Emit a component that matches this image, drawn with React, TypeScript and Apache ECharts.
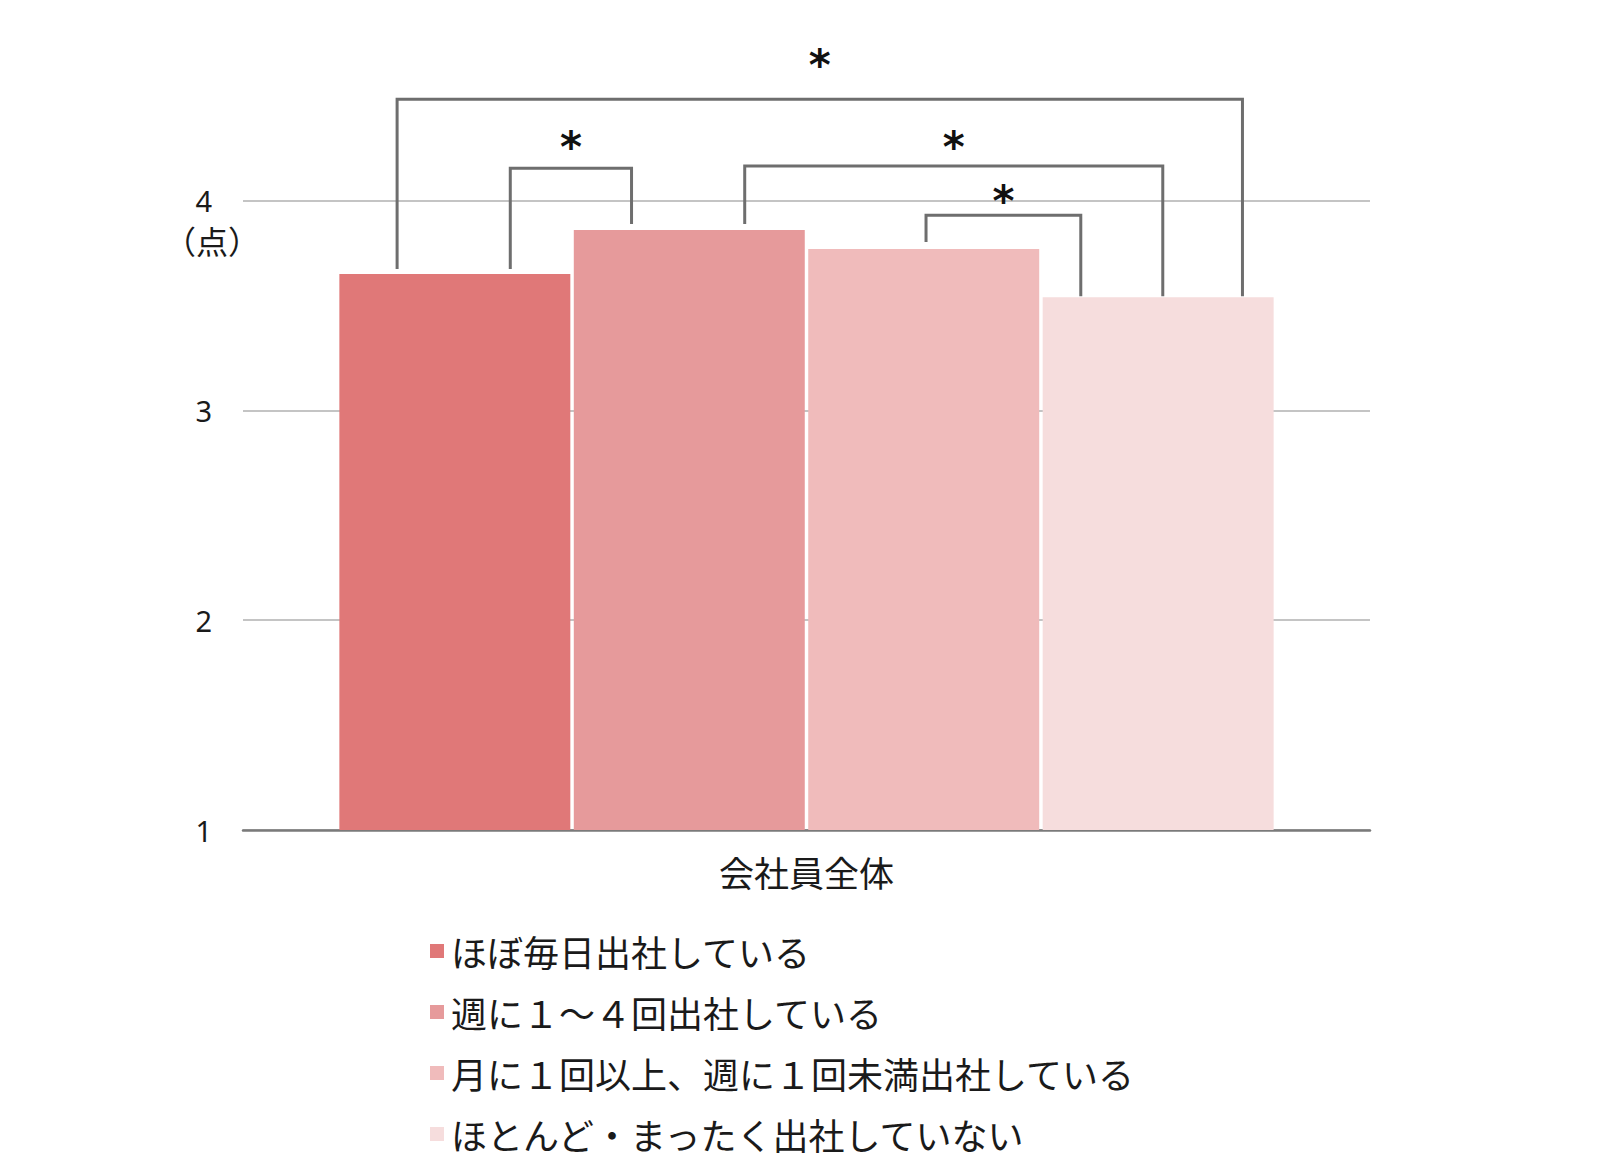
import React, { useEffect, useRef } from 'react';
import * as echarts from 'echarts';

// ---- data ----
const CATEGORIES = ['会社員全体'];
const SERIES_NAMES = [
  'ほぼ毎日出社している',
  '週に１～４回出社している',
  '月に１回以上、週に１回未満出社している',
  'ほとんど・まったく出社していない',
];
const SCORES = [3.65, 3.86, 3.77, 3.54];
const Y_MIN = 1;
const Y_MAX = 4;
const Y_INTERVAL = 1;
const UNIT_LABEL = '（点）';

// significance brackets (series index, relative position along bar, level in score units)
const SIG_FROM = [0, 0, 1, 2];
const SIG_TO = [3, 1, 3, 3];
const SIG_FROM_POS = [0.25, 0.74, 0.74, 0.51];
const SIG_TO_POS = [0.865, 0.25, 0.52, 0.165];
const SIG_LEVEL = [4.484, 4.155, 4.165, 3.931];
const SIG_MARK_LEVEL = [4.675, 4.284, 4.284, 4.027];
const SIG_MARK = ['*', '*', '*', '*'];

// ---- styles ----
const COLORS = ['#E07878', '#E69A9B', '#F0BBBB', '#F6DDDD'];
const FONT_JP = '"Noto Sans CJK JP", "Noto Sans", sans-serif';
const FONT_NUM = '"Noto Sans", "Noto Sans CJK JP", sans-serif';
const TEXT_COLOR = '#1a1a1a';
const GRID_LEFT = 243;
const GRID_RIGHT = 230;
const GRID_TOP = 200.7;
const GRID_BOTTOM = 344;
const LEG_GAP = [5, 6, 7, 1];

export default function App() {
  const ref = useRef<HTMLDivElement>(null);

  useEffect(() => {
    if (!ref.current) return;
    const chart = echarts.init(ref.current, undefined, { renderer: 'svg' });

    const option: any = {
      animation: false,
      backgroundColor: '#ffffff',
      grid: { left: GRID_LEFT, right: GRID_RIGHT, top: GRID_TOP, bottom: GRID_BOTTOM, containLabel: false },
      xAxis: {
        type: 'category',
        data: CATEGORIES,
        axisLine: { show: true, lineStyle: { color: '#7a7a7a', width: 2.5 } },
        axisTick: { show: false },
        axisLabel: { fontSize: 35, lineHeight: 35, margin: 24, color: TEXT_COLOR, fontFamily: FONT_JP },
      },
      yAxis: {
        type: 'value',
        min: Y_MIN,
        max: Y_MAX,
        interval: Y_INTERVAL,
        axisLine: { show: false },
        axisTick: { show: false },
        axisLabel: { fontSize: 29, lineHeight: 29, margin: 31, color: TEXT_COLOR, fontFamily: FONT_NUM },
        splitLine: { show: true, lineStyle: { color: '#c4c4c4', width: 2 } },
      },
      legend: {
        orient: 'vertical',
        left: 425,
        top: 926,
        itemWidth: 14,
        itemHeight: 14,
        itemGap: 21,
        icon: 'rect',
        data: SERIES_NAMES,
        textStyle: { fontSize: 36, lineHeight: 40, color: TEXT_COLOR, fontFamily: FONT_JP, padding: [0, 0, 0, 2] },
      },
      series: SERIES_NAMES.map((name, i) => ({
        name,
        type: 'bar',
        data: [SCORES[i]],
        barCategoryGap: '17.1%',
        barGap: '1.5%',
        itemStyle: { color: COLORS[i] },
      })),
    };
    chart.setOption(option);

    // build significance brackets from the chart's own layout
    const layouts = SERIES_NAMES.map((_, i) => {
      const data = (chart as any).getModel().getSeriesByIndex(i).getData();
      const l = data.getItemLayout(0);
      return { x: l.x, width: l.width, top: Math.min(l.y, l.y + l.height) };
    });
    const yPix = (v: number) => chart.convertToPixel({ yAxisIndex: 0 }, v) as number;

    const elements: any[] = [];
    SIG_FROM.forEach((from, k) => {
      const to = SIG_TO[k];
      const x1 = layouts[from].x + layouts[from].width * SIG_FROM_POS[k];
      const x2 = layouts[to].x + layouts[to].width * SIG_TO_POS[k];
      const yl = yPix(SIG_LEVEL[k]);
      const y1 = layouts[from].top - LEG_GAP[from];
      const y2 = layouts[to].top - LEG_GAP[to];
      elements.push({
        type: 'polyline',
        z: 10,
        shape: { points: [[x1, y1], [x1, yl], [x2, yl], [x2, y2]] },
        style: { stroke: '#6e6e6e', lineWidth: 3, fill: 'none' },
      });
      elements.push({
        type: 'text',
        z: 10,
        x: (x1 + x2) / 2,
        y: yPix(SIG_MARK_LEVEL[k]) + 6,
        style: {
          text: SIG_MARK[k],
          fontSize: 42,
          fontWeight: 'bold',
          fontFamily: '"DejaVu Sans", sans-serif',
          fill: '#111111',
          align: 'center',
          verticalAlign: 'middle',
          textAlign: 'center',
          textVerticalAlign: 'middle',
        },
      });
    });
    elements.push({
      type: 'text',
      z: 10,
      x: GRID_LEFT - 31,
      y: yPix(Y_MAX) + 39,
      style: {
        text: UNIT_LABEL,
        fontSize: 32,
        lineHeight: 28,
        fontFamily: FONT_JP,
        fill: TEXT_COLOR,
        align: 'center',
        verticalAlign: 'middle',
        textAlign: 'center',
        textVerticalAlign: 'middle',
      },
    });
    chart.setOption({ graphic: { elements } });

    return () => chart.dispose();
  }, []);

  return <div ref={ref} style={{ position: 'fixed', left: 0, top: 0, width: '100vw', height: '100vh' }} />;
}
